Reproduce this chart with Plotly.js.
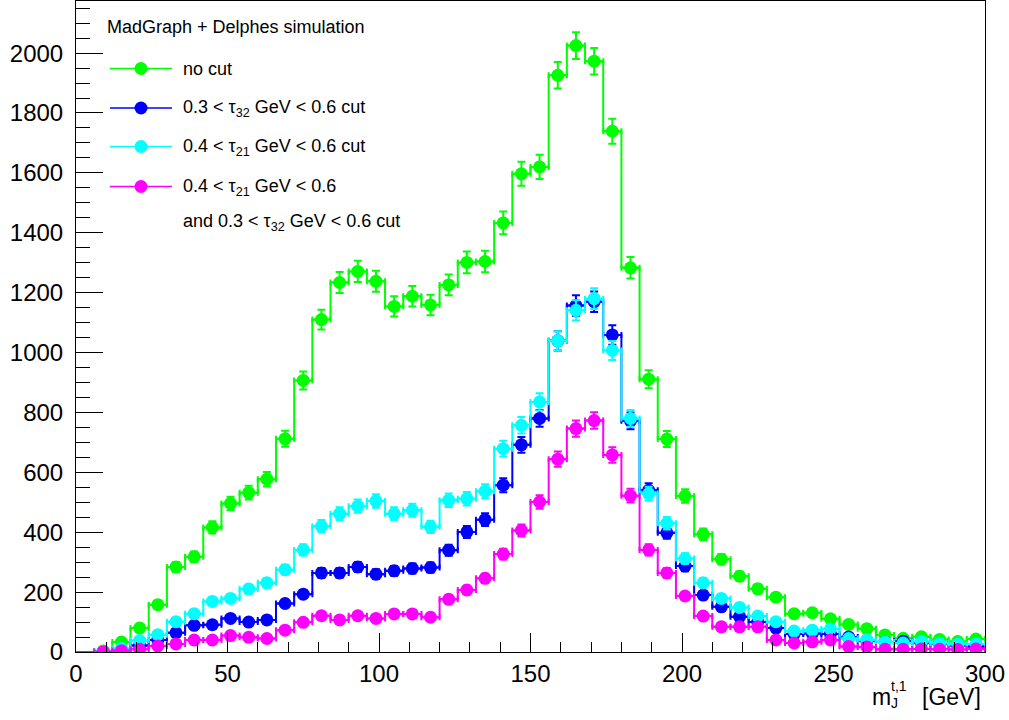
<!DOCTYPE html>
<html>
<head>
<meta charset="utf-8">
<script src="https://cdn.plot.ly/plotly-3.0.1.min.js"></script>
<style>
html,body{margin:0;padding:0;background:#fff;}
#chart{width:1009px;height:720px;}
</style>
</head>
<body>
<div id="chart"></div>
<script>
// ---------------- data ----------------
const binCenters = [3,9,15,21,27,33,39,45,51,57,63,69,75,81,87,93,99,105,111,117,123,129,135,141,147,153,159,165,171,177,183,189,195,201,207,213,219,225,231,237,243,249,255,261,267,273,279,285,291,297];
const binWidth = 6;

const noCut     = [0,3,33,80,158,284,318,416,496,532,577,712,907,1110,1234,1271,1238,1154,1188,1159,1226,1301,1304,1433,1597,1620,1926,2025,1973,1739,1283,911,711,521,393,310,253,211,183,128,131,111,92,78,57,46,51,42,35,43];
const tau32Cut  = [0,1,8,22,40,64,89,91,112,100,107,162,193,264,264,284,260,271,279,282,340,401,442,557,692,780,1039,1157,1170,1059,772,540,398,287,190,151,118,100,80,60,62,60,50,37,33,36,30,27,22,18];
const tau21Cut  = [0,2,12,38,58,101,128,169,179,210,231,275,341,420,462,487,504,462,473,418,507,512,537,679,757,835,1039,1141,1180,1007,780,529,430,312,231,179,149,120,101,70,73,77,45,41,33,30,35,29,26,27];
const bothCut   = [0,1,4,9,20,27,40,40,55,49,45,73,99,121,107,121,112,127,127,116,176,207,246,327,406,501,644,746,773,658,522,341,264,187,120,84,84,84,40,30,34,40,18,17,9,9,10,9,8,10];

const seriesNames = ["no cut", "0.3 < τ32 GeV < 0.6 cut", "0.4 < τ21 GeV < 0.6 cut", "0.4 < τ21 GeV < 0.6 and 0.3 < τ32 GeV < 0.6 cut"];
const seriesColors = ["#00ff00", "#0000ff", "#00ffff", "#ff00ff"];
const seriesValues = [noCut, tau32Cut, tau21Cut, bothCut];

const xRange = [0, 300];
const yRange = [0, 2174];

// ---------------- traces ----------------
const traces = [];
seriesValues.forEach((vals, i) => {
  const col = seriesColors[i];
  // step outline over bin edges
  const ex = binCenters.map(c => c - binWidth / 2);
  ex.push(binCenters[binCenters.length - 1] + binWidth / 2);
  const ey = vals.slice();
  ey.push(vals[vals.length - 1]);
  traces.push({
    type: "scatter", mode: "lines", x: ex, y: ey,
    line: {shape: "hv", color: col, width: 2},
    hoverinfo: "skip", showlegend: false
  });
  // markers with error bars
  const mx = [], my = [], me = [];
  vals.forEach((v, k) => { if (v > 0) { mx.push(binCenters[k]); my.push(v); me.push(Math.sqrt(v)); } });
  traces.push({
    type: "scatter", mode: "markers", x: mx, y: my, name: seriesNames[i],
    marker: {symbol: "circle", size: 13, color: col, line: {width: 0}},
    error_y: {type: "data", array: me, visible: true, color: col, thickness: 2, width: 4},
    error_x: {type: "constant", value: binWidth / 2, visible: true, color: col, thickness: 2, width: 3},
    showlegend: false
  });
});

// ---------------- manual legend (pixel helpers) ----------------
const L = 76, R = 985, T = 1, B = 652;
const PX = p => (p - L) / (R - L);
const PY = p => (B - p) / (B - T);
const FONT = "Liberation Sans, Arial, Helvetica, sans-serif";

const shapes = [];
const annotations = [];
const legendRows = [68.5, 108, 146.5, 186.5];
const legendTexts = ["no cut", "0.3 < τ<sub>32</sub> GeV < 0.6 cut", "0.4 < τ<sub>21</sub> GeV < 0.6 cut", "0.4 < τ<sub>21</sub> GeV < 0.6"];
legendRows.forEach((py, i) => {
  shapes.push({type: "line", xref: "paper", yref: "paper", x0: PX(110), x1: PX(172), y0: PY(py), y1: PY(py),
               line: {color: seriesColors[i], width: 1.5}});
  shapes.push({type: "circle", xref: "paper", yref: "paper", x0: PX(141 - 6.5), x1: PX(141 + 6.5),
               y0: PY(py + 6.5), y1: PY(py - 6.5), fillcolor: seriesColors[i], line: {width: 0}});
  annotations.push({xref: "paper", yref: "paper", x: PX(181), y: PY(py + 0.5), xanchor: "left", yanchor: "middle",
                    text: legendTexts[i], showarrow: false, font: {family: FONT, size: 18, color: "#000"}});
});
annotations.push({xref: "paper", yref: "paper", x: PX(181), y: PY(223), xanchor: "left", yanchor: "middle",
                  text: "and 0.3 < τ<sub>32</sub> GeV < 0.6 cut", showarrow: false, font: {family: FONT, size: 18, color: "#000"}});
annotations.push({xref: "paper", yref: "paper", x: PX(105), y: PY(27), xanchor: "left", yanchor: "middle",
                  text: "MadGraph + Delphes simulation", showarrow: false, font: {family: FONT, size: 18, color: "#000"}});

// x-axis title  m_J^{t,1} [GeV]
annotations.push({xref: "paper", yref: "paper", x: PX(870), y: PY(697), xanchor: "left", yanchor: "middle",
                  text: "m", showarrow: false, font: {family: FONT, size: 23, color: "#000"}});
annotations.push({xref: "paper", yref: "paper", x: PX(889), y: PY(686), xanchor: "left", yanchor: "middle",
                  text: "t,1", showarrow: false, font: {family: FONT, size: 14, color: "#000"}});
annotations.push({xref: "paper", yref: "paper", x: PX(889), y: PY(703), xanchor: "left", yanchor: "middle",
                  text: "J", showarrow: false, font: {family: FONT, size: 14, color: "#000"}});
annotations.push({xref: "paper", yref: "paper", x: PX(920), y: PY(697), xanchor: "left", yanchor: "middle",
                  text: "[GeV]", showarrow: false, font: {family: FONT, size: 23, color: "#000"}});

const layout = {
  width: 1009, height: 720,
  margin: {l: 76, r: 24, t: 1, b: 68, pad: 0, autoexpand: false},
  paper_bgcolor: "#fff", plot_bgcolor: "#fff",
  showlegend: false,
  font: {family: FONT, color: "#000"},
  xaxis: {
    range: xRange, tick0: 0, dtick: 50, ticks: "inside", ticklen: 19, tickwidth: 1, tickcolor: "#000",
    minor: {ticks: "inside", dtick: 10, ticklen: 10, tickwidth: 1, tickcolor: "#000", showgrid: false},
    showline: true, linecolor: "#000", linewidth: 1, mirror: true,
    showgrid: false, zeroline: false, ticklabelstandoff: 0,
    tickfont: {family: FONT, size: 24, color: "#000"}
  },
  yaxis: {
    range: yRange, tick0: 0, dtick: 200, ticks: "inside", ticklen: 27, tickwidth: 1, tickcolor: "#000",
    minor: {ticks: "inside", dtick: 50, ticklen: 14, tickwidth: 1, tickcolor: "#000", showgrid: false},
    showline: true, linecolor: "#000", linewidth: 1, mirror: true,
    showgrid: false, zeroline: false, ticklabelstandoff: 7,
    tickfont: {family: FONT, size: 24, color: "#000"}
  },
  shapes: shapes,
  annotations: annotations
};

Plotly.newPlot("chart", traces, layout, {displayModeBar: false, staticPlot: true});
</script>
</body>
</html>
